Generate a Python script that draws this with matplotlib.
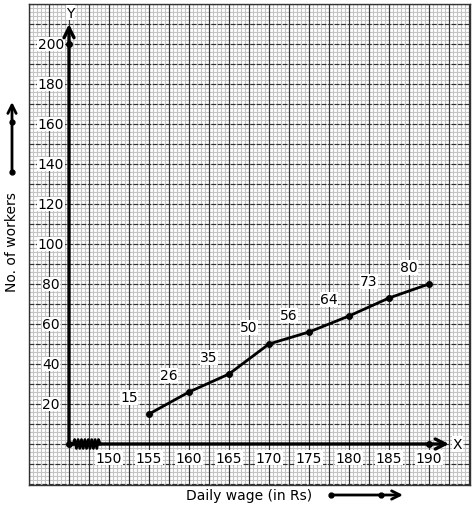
import numpy as np
import matplotlib
matplotlib.use("Agg")
import matplotlib.pyplot as plt

wages = [155, 160, 165, 170, 175, 180, 185, 190]
workers = [15, 26, 35, 50, 56, 64, 73, 80]
x_ticks = [150, 155, 160, 165, 170, 175, 180, 185, 190]
y_ticks = [20, 40, 60, 80, 100, 120, 140, 160, 180, 200]

W, H = 474, 510
fig = plt.figure(figsize=(W / 100, H / 100), dpi=100)
ax = fig.add_axes([29 / W, (H - 486) / H, 441 / W, 481 / H])
ax.set_xlim(140, 195.125)
ax.set_ylim(-20.5, 220)
ax.set_xticks([]); ax.set_yticks([])
for s in ax.spines.values():
    s.set_color("#333333"); s.set_linewidth(1)

# graph paper
for xv in np.arange(140, 195.2, 0.5):
    ax.axvline(xv, color="#c4c4c4", lw=0.8, zorder=0)
for yv in np.arange(-20, 221, 2):
    ax.axhline(yv, color="#c4c4c4", lw=0.8, zorder=0)
for xv in np.arange(140, 195.2, 2.5):
    ax.axvline(xv, color="#333333", lw=0.85, zorder=1)
for yv in np.arange(-20, 221, 10):
    ax.axhline(yv, color="#333333", lw=0.85, ls=(0, (4, 1.5)), zorder=1)

# axes
ax.annotate("", xy=(192.5, 0), xytext=(145, 0),
            arrowprops=dict(arrowstyle="->", lw=2.4, color="black",
                            mutation_scale=18, shrinkA=0, shrinkB=0), zorder=5)
ax.annotate("", xy=(145, 210), xytext=(145, 0),
            arrowprops=dict(arrowstyle="->", lw=2.4, color="black",
                            mutation_scale=18, shrinkA=0, shrinkB=0), zorder=5)
ax.plot([145, 190, 145], [0, 0, 200], "o", color="black", ms=4, zorder=6)
ax.text(193.6, 0, "X", ha="center", va="center", fontsize=10,
        bbox=dict(fc="white", ec="none", pad=0.5), zorder=6)
ax.text(145.2, 215.7, "Y", ha="center", va="center", fontsize=10,
        bbox=dict(fc="white", ec="none", pad=0.5), zorder=6)

# axis break zigzag
n = 17
zx = np.linspace(145.5, 148.9, n)
zy = np.array([0 if i in (0, n - 1) else (2.2 if i % 2 else -2.2) for i in range(n)])
ax.plot(zx, zy, color="black", lw=2, zorder=6)

for t in x_ticks:
    ax.text(t, -6.8, str(t), ha="center", va="center", fontsize=10,
            bbox=dict(fc="white", ec="none", pad=0.3), zorder=4)
for t in y_ticks:
    ax.text(142.75, t, str(t), ha="center", va="center", fontsize=10,
            bbox=dict(fc="white", ec="none", pad=0.3), zorder=4)

ax.plot(wages, workers, "-o", color="black", lw=2, ms=4, zorder=7)
for xv, yv in zip(wages, workers):
    ax.annotate(str(yv), (xv, yv), xytext=(-14.5, 12), textcoords="offset points",
                ha="center", va="center", fontsize=10,
                bbox=dict(fc="white", ec="none", pad=0.3), zorder=8)

# outside labels and arrows
fig.text(249 / W, 1 - 496 / H, "Daily wage (in Rs)", ha="center", va="center", fontsize=10)
fig.text(12 / W, 1 - 242 / H, "No. of workers", ha="center", va="center",
         rotation=90, fontsize=10)

a = fig.add_axes([0, 0, 1, 1], facecolor="none")
a.set_xlim(0, W); a.set_ylim(H, 0); a.axis("off")
a.annotate("", xy=(403, 496), xytext=(331, 496),
           arrowprops=dict(arrowstyle="->", lw=2, color="black",
                           mutation_scale=15, shrinkA=0, shrinkB=0))
a.plot([331, 381], [496, 496], "o", color="black", ms=3.5)
a.annotate("", xy=(12, 103), xytext=(12, 173),
           arrowprops=dict(arrowstyle="->", lw=2, color="black",
                           mutation_scale=15, shrinkA=0, shrinkB=0))
a.plot([12, 12], [123, 173], "o", color="black", ms=3.5)

fig.savefig("out.png", dpi=100)
